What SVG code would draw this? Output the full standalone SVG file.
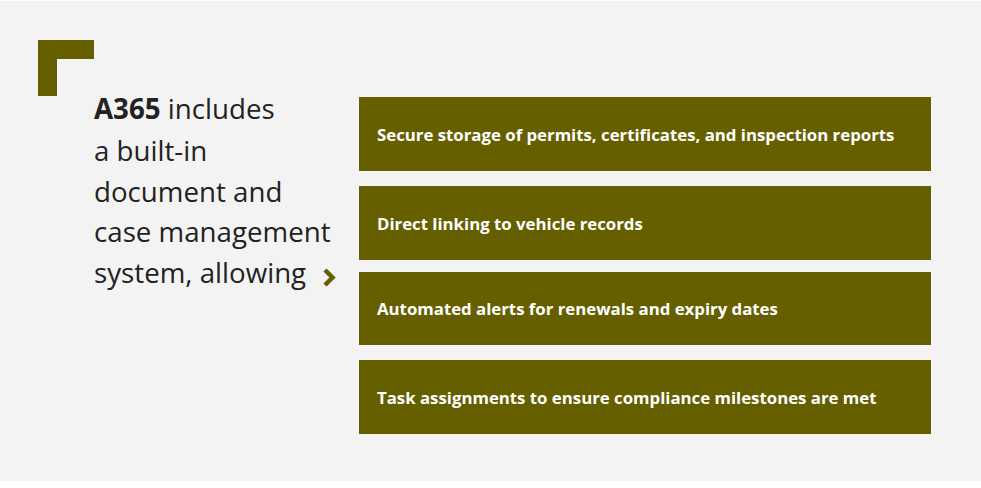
<svg xmlns="http://www.w3.org/2000/svg" width="981" height="488" viewBox="0 0 981 488">
<style>
.box{fill:#665f00}
.bt{font-family:"Open Sans","Noto Sans",sans-serif;font-weight:700;font-size:16.8px;fill:#ffffff}
.lt{font-family:"Open Sans","Noto Sans",sans-serif;font-size:27.7px;fill:#222222}
</style>
<rect x="0" y="0" width="981" height="488" fill="#ffffff"/>
<rect x="0" y="1" width="981" height="480" fill="#f3f3f3"/>
<g id="bracket">
<path d="M38 40 H94 V59 H57 V96 H38 Z" fill="#665f00"/>
</g>
<g id="intro">
<text class="lt" x="94" y="119"><tspan font-weight="700">A365</tspan> includes</text>
<text class="lt" x="94" y="161">a built-in</text>
<text class="lt" x="94" y="201.5">document and</text>
<text class="lt" x="94" y="242">case management</text>
<text class="lt" x="94" y="283">system, allowing</text>
</g>
<g id="connectors">
<polyline points="325,270 332.5,277.5 325,285" fill="none" stroke="#665f00" stroke-width="4.5"/>
</g>
<g id="item1">
<rect class="box" x="359" y="97" width="572" height="74"/>
<text class="bt" x="377" y="141">Secure storage of permits, certificates, and inspection reports</text>
</g>
<g id="item2">
<rect class="box" x="359" y="186" width="572" height="74"/>
<text class="bt" x="377" y="230">Direct linking to vehicle records</text>
</g>
<g id="item3">
<rect class="box" x="359" y="272" width="572" height="73"/>
<text class="bt" x="377" y="315">Automated alerts for renewals and expiry dates</text>
</g>
<g id="item4">
<rect class="box" x="359" y="360" width="572" height="74"/>
<text class="bt" x="377" y="404">Task assignments to ensure compliance milestones are met</text>
</g>
</svg>
